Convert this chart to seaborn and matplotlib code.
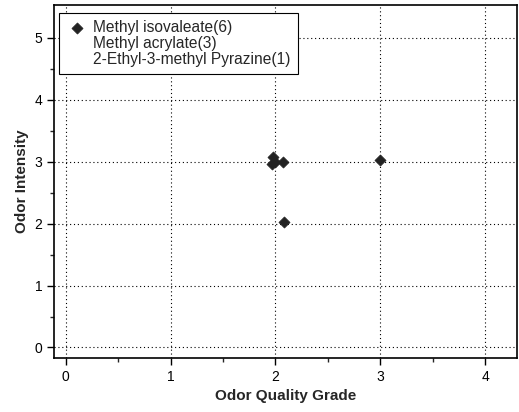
import numpy as np
import seaborn as sns
import pandas as pd
import matplotlib.pyplot as plt

# data
quality_grade = [1.97, 1.98, 2.00, 2.07, 2.08, 3.00]
odor_intensity = [2.96, 3.08, 3.00, 3.00, 2.02, 3.02]
series_names = ['Methyl isovaleate(6)', 'Methyl acrylate(3)', '2-Ethyl-3-methyl Pyrazine(1)']

df = pd.DataFrame({'grade': quality_grade, 'intensity': odor_intensity})

sns.set_style('ticks')
plt.rcParams['font.family'] = ['Liberation Sans', 'DejaVu Sans']

fig = plt.figure(figsize=(5.19, 4.12), dpi=100)
ax = fig.add_axes([0.104, 0.131, 0.892, 0.857])

sns.scatterplot(data=df, x='grade', y='intensity', marker='D', s=32,
                color='#222222', edgecolor='#222222', linewidth=0.5,
                label=series_names[0], ax=ax, zorder=3)
# the other two series show no marks in the reference
for name in series_names[1:]:
    ax.plot([], [], ' ', label=name)

ax.set_xlim(-0.11, 4.3)
ax.set_ylim(-0.17, 5.53)
ax.set_xticks([0, 1, 2, 3, 4])
ax.set_yticks([0, 1, 2, 3, 4, 5])
ax.set_xticks(np.arange(0.5, 4.3, 1), minor=True)
ax.set_yticks(np.arange(0.5, 5.5, 1), minor=True)
ax.grid(True, which='major', color='black', linestyle=(0, (1, 2.5)), linewidth=0.8)
ax.tick_params(which='major', direction='out', length=5, width=1, labelsize=10, colors='black')
ax.tick_params(which='minor', direction='out', length=3, width=1)
for sp in ax.spines.values():
    sp.set_linewidth(1.2)
    sp.set_color('black')

ax.set_xlabel('Odor Quality Grade', fontsize=11, fontweight='bold')
ax.set_ylabel('Odor Intensity', fontsize=11, fontweight='bold')

leg = ax.legend(loc='upper left', bbox_to_anchor=(59 / 519, 1 - 13 / 412),
                bbox_transform=fig.transFigure, borderaxespad=0,
                fontsize=11.2, frameon=True, fancybox=False,
                edgecolor='black', framealpha=1,
                handlelength=1.4, handletextpad=0.35, labelspacing=0.08,
                borderpad=0.45)
leg.get_frame().set_linewidth(0.8)

fig.savefig('out.png', dpi=100)
